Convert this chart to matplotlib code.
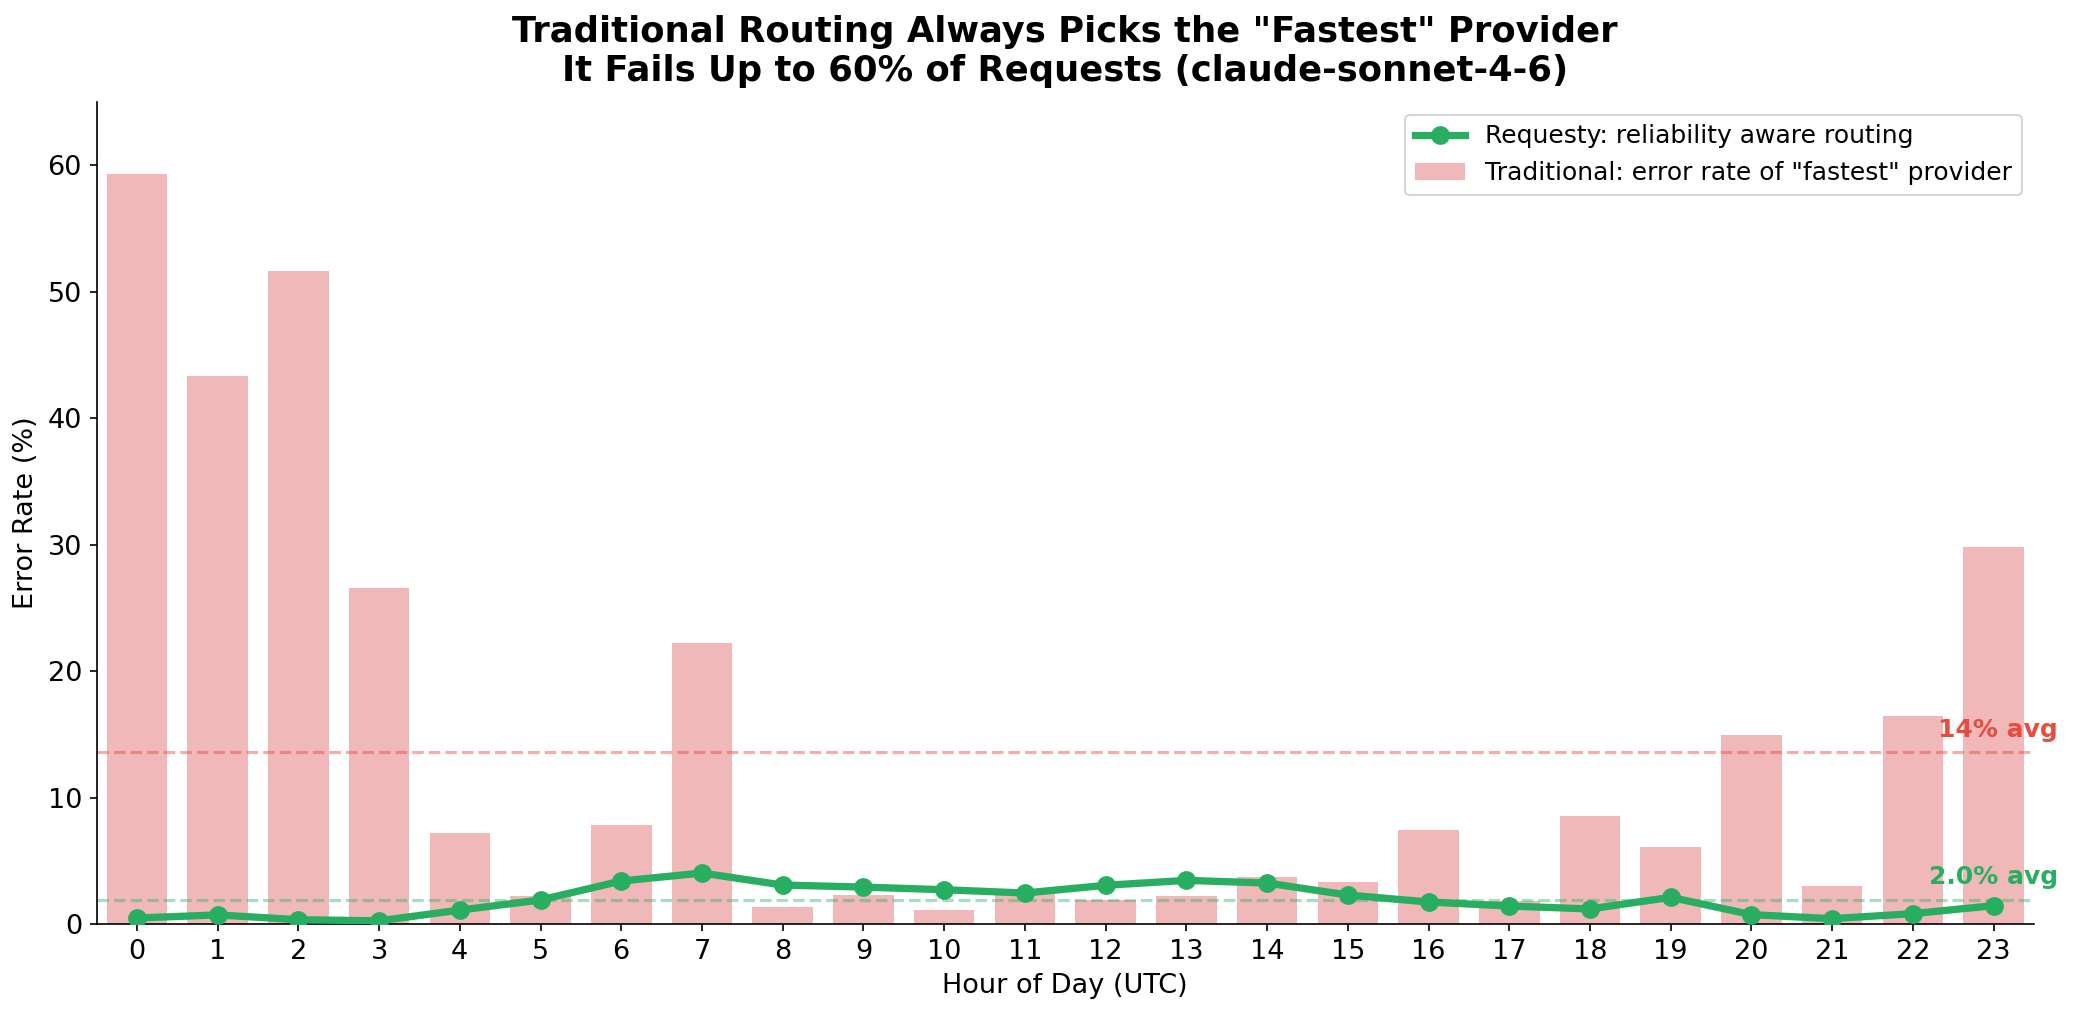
import numpy as np
from matplotlib import pyplot as plt

# Hour of day (UTC)
hours = list(range(24))

# error rate (%) of the "fastest" provider, traditional routing
traditional = [59.3, 43.3, 51.65, 26.6, 7.2, 2.2, 7.84, 22.2,
               1.37, 2.32, 1.13, 2.45, 1.92, 2.24, 3.74, 3.35,
               7.46, 1.8, 8.56, 6.11, 14.97, 3.03, 16.47, 29.78]

# error rate (%) with reliability aware routing
requesty = [0.47, 0.72, 0.34, 0.25, 1.1, 1.9, 3.4, 4.03,
            3.08, 2.92, 2.71, 2.45, 3.06, 3.45, 3.24, 2.29,
            1.74, 1.42, 1.19, 2.11, 0.74, 0.42, 0.82, 1.45]

red = '#e74c3c'
green = '#27ae60'

fig = plt.figure(figsize=(2074 / 150, 1015 / 150), dpi=150)
ax = fig.add_axes([96.5 / 2074, 1 - 924 / 1015, (2034 - 96.5) / 2074, (924 - 102) / 1015])

ax.bar(hours, traditional, width=0.75, color='#f0b8b9',
       label='Traditional: error rate of "fastest" provider', zorder=1)

trad_avg = np.mean(traditional)
req_avg = np.mean(requesty)
ax.axhline(trad_avg, color=red, linestyle='--', linewidth=1.5, alpha=0.45, zorder=2)
ax.axhline(req_avg, color=green, linestyle='--', linewidth=1.5, alpha=0.4, zorder=2)

ax.plot(hours, requesty, color=green, linewidth=3.5, marker='o', markersize=8,
        label='Requesty: reliability aware routing', zorder=3)

ax.text(23.8, trad_avg + 0.8, '%.0f%% avg' % trad_avg, color=red, fontsize=12,
        fontweight='bold', ha='right', va='bottom')
ax.text(23.8, req_avg + 0.9, '2.0% avg', color=green, fontsize=12,
        fontweight='bold', ha='right', va='bottom')

ax.set_xlim(-0.5, 23.5)
ax.set_ylim(0, 65)
ax.set_xticks(hours)
ax.tick_params(labelsize=13)
ax.set_xlabel('Hour of Day (UTC)', fontsize=13)
ax.set_ylabel('Error Rate (%)', fontsize=13)
ax.spines['top'].set_visible(False)
ax.spines['right'].set_visible(False)

ax.set_title('Traditional Routing Always Picks the "Fastest" Provider\n'
             'It Fails Up to 60% of Requests (claude-sonnet-4-6)',
             fontsize=17, fontweight='bold', pad=10)
ax.legend(loc='upper right', fontsize=12)

fig.savefig('out.png', dpi=150)
